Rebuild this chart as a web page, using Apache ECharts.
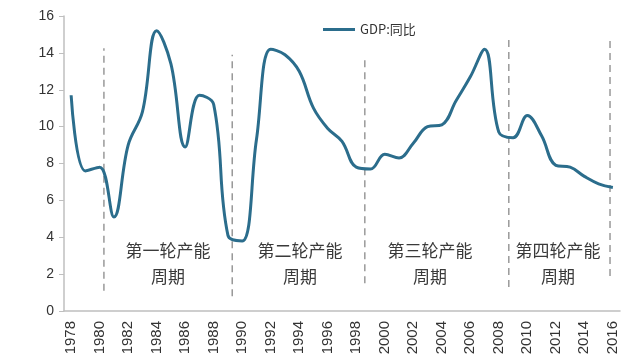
<!DOCTYPE html>
<html>
<head>
<meta charset="utf-8">
<script src="https://cdn.jsdelivr.net/npm/echarts@6/dist/echarts.min.js"></script>
<style>
  html, body { margin: 0; padding: 0; background: #fff; }
  #chart { width: 640px; height: 355px; }
</style>
</head>
<body>
<div id="chart"></div>
<script>
// years and GDP yoy
var years = [];
for (var y = 1978; y <= 2016; y++) years.push(String(y));
var gdp = [11.7, 7.6, 7.8, 5.1, 9.0, 10.8, 15.2, 13.4, 8.9, 11.7,
           11.2, 4.1, 3.8, 9.3, 14.2, 13.9, 13.0, 11.0, 9.9, 9.2,
           7.8, 7.7, 8.5, 8.3, 9.1, 10.0, 10.1, 11.4, 12.7, 14.2,
           9.7, 9.4, 10.6, 9.5, 7.9, 7.8, 7.3, 6.9, 6.7];

// dashed cycle dividers (fractional year, top, bottom)
var dividerYear = [1980.3, 1989.3, 1998.6, 2008.7, 2015.8];
var dividerTop = [14.25, 13.9, 13.8, 14.8, 14.7];
var dividerBottom = [1.1, 0.8, 1.5, 1.3, 1.9];

var cycleNames = ['第一轮产能', '第二轮产能', '第三轮产能', '第四轮产能'];

var chart = echarts.init(document.getElementById('chart'));

var series = [{
  name: 'GDP:同比',
  type: 'line',
  data: gdp,
  smooth: 0.4,
  symbol: 'none',
  lineStyle: { color: '#2b6d8c', width: 3 },
  itemStyle: { color: '#2b6d8c' },
  z: 3
}];

dividerYear.forEach(function (x, i) {
  series.push({
    type: 'line',
    xAxisIndex: 1,
    data: [[x, dividerBottom[i]], [x, dividerTop[i]]],
    symbol: 'none',
    silent: true,
    lineStyle: { color: '#999', width: 1.5, type: [7, 5] },
    z: 2
  });
});

// cycle labels
var labelX = [168, 300, 430, 558];
var graphic = [];
var labelFont = '17px "Noto Sans CJK SC"';
cycleNames.forEach(function (name, i) {
  graphic.push({
    type: 'text', x: labelX[i], y: 242,
    style: { text: name, font: labelFont, fill: '#3a3a3a', align: 'center' }
  });
  graphic.push({
    type: 'text', x: labelX[i], y: 268,
    style: { text: '周期', font: labelFont, fill: '#3a3a3a', align: 'center' }
  });
});

chart.setOption({
  animation: false,
  textStyle: { fontFamily: '"Liberation Sans", "Noto Sans CJK SC", sans-serif' },
  legend: {
    data: ['GDP:同比'],
    left: 318,
    top: 18,
    itemWidth: 32,
    itemHeight: 3,
    icon: 'rect',
    textStyle: { color: '#333', fontSize: 13, fontFamily: '"Noto Sans CJK SC", sans-serif' }
  },
  grid: { left: 64, right: 20, top: 16, bottom: 44, outerBoundsMode: 'none' },
  xAxis: [{
    type: 'category',
    data: years,
    boundaryGap: true,
    axisLine: { lineStyle: { color: '#bfbfbf', width: 1.5 } },
    axisTick: { interval: 1, length: 5, lineStyle: { color: '#bfbfbf' } },
    axisLabel: { interval: 1, rotate: 90, color: '#333', fontSize: 15, margin: 10 }
  }, {
    type: 'value',
    min: 1977.5,
    max: 2016.5,
    show: false
  }],
  yAxis: {
    type: 'value',
    min: 0,
    max: 16,
    interval: 2,
    axisLine: { show: true, lineStyle: { color: '#bfbfbf', width: 1.5 } },
    axisTick: { show: true, length: 5, lineStyle: { color: '#bfbfbf' } },
    splitLine: { show: false },
    axisLabel: { color: '#333', fontSize: 14, margin: 10 }
  },
  graphic: graphic,
  series: series
});
</script>
</body>
</html>
